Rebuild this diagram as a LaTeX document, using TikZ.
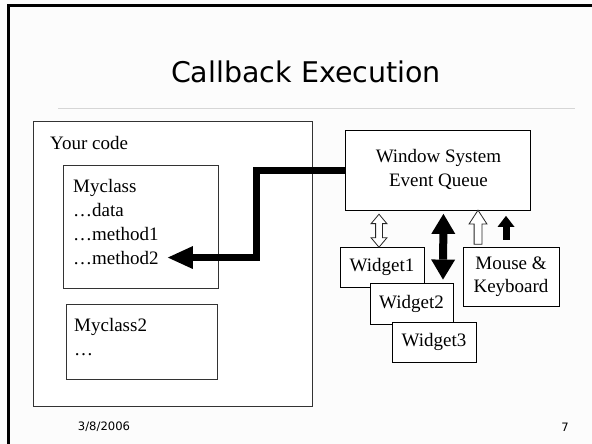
\documentclass[tikz,border=0pt]{standalone}
\usepackage{fontspec}
\setmainfont{Liberation Serif}
\newfontfamily\slidefont{DejaVu Sans}
\usepackage{tikz}
\usetikzlibrary{arrows.meta,positioning,shapes.arrows,calc}
\definecolor{slidebg}{HTML}{FCFCFC}
\definecolor{rulegray}{HTML}{D6D6D6}
\newcommand{\bodyfont}{\fontsize{19pt}{24pt}\selectfont}

\begin{document}
\begin{tikzpicture}[
    x=1pt, y=-1pt,
    box/.style={rectangle, draw=black!80, line width=0.9pt, fill=white, inner sep=0pt},
    wbox/.style={box, draw=black, font=\bodyfont, align=center, minimum width=84pt, minimum height=40pt},
    txt/.style={font=\bodyfont, inner sep=0pt, anchor=base west},
    bigarrow/.style={line width=7pt, -{Triangle[length=25pt, width=23pt, line width=0pt]}},
    blkarrow/.style={line width=8pt, {Triangle[length=20pt, width=24pt, line width=0pt]}-{Triangle[length=20pt, width=24pt, line width=0pt]}},
    blkup/.style={line width=7pt, -{Triangle[length=11pt, width=17pt, line width=0pt]}},
    hollowdbl/.style={double arrow, draw=black!85, line width=0.8pt, fill=white, inner sep=0pt, inner ysep=3pt,
        double arrow head extend=4.5pt, double arrow tip angle=80, minimum height=33pt, minimum width=15pt, rotate=90},
    hollowup/.style={single arrow, draw=black!85, line width=0.8pt, fill=white, inner sep=0pt, inner ysep=3.5pt,
        single arrow head extend=5pt, single arrow tip angle=66, minimum height=34pt, minimum width=17pt, rotate=90}
]
    \useasboundingbox (0,0) rectangle (592,444);
    \fill[slidebg] (0,0) rectangle (592,444);
    \draw[line width=3pt] (8.5,444) -- (8.5,6) -- (592,6);

    % Title
    \node[font=\slidefont\fontsize{28.5pt}{32pt}\selectfont, anchor=base] (title) at (306,83) {Callback Execution};
    \draw[rulegray, line width=1pt] (58,108) -- (575,108);

    % Your code
    \node[box, minimum width=279pt, minimum height=285pt, anchor=north west] (yourcode) at (32.5,121) {};
    \node[txt] (yourlbl) at (50,149) {Your code};
    \node[box, minimum width=155pt, minimum height=123pt, anchor=north west] (myclass) at (63,165) {};
    \node[txt] (mcname) at (73,192) {Myclass};
    \node[txt] (mcdata) at (73,216) {…data};
    \node[txt] (mcm1) at (73,240) {…method1};
    \node[txt] (mcm2) at (73,264) {…method2};
    \node[box, minimum width=151pt, minimum height=75pt, anchor=north west] (myclass2) at (66,304) {};
    \node[txt] (mc2name) at (74,331) {Myclass2};
    \node[txt] (mc2dots) at (74,355) {…};

    % Window system side
    \node[box, draw=black, minimum width=185pt, minimum height=80pt, anchor=north west] (queue) at (345,130) {};
    \node[font=\bodyfont, align=center, inner sep=0pt] (queuelbl) at ($(queue.center)+(0.5,-1.5)$) {Window System\\Event Queue};
    \node[wbox] (widget1) at (382,267) {Widget1};
    \node[wbox, minimum width=83pt, minimum height=41pt] (widget2) at (411.5,303.5) {Widget2};
    \node[wbox] (widget3) at (434,342) {Widget3};
    \node[wbox, minimum width=96pt, minimum height=59pt, font=\fontsize{19pt}{23pt}\selectfont] (mouse) at (511,276.5) {Mouse \&\\Keyboard};

    % Arrows
    \coordinate (elbow) at (256,0);
    \draw[bigarrow] (queue.west) -| (elbow |- mcm2.east) -- ($(mcm2.east)+(9,0)$);
    \draw[blkarrow] ($(queue.south)+(5.5,3)$) -- ($(widget2.north)+(31.5,-3)$);
    \draw[blkup] ($(mouse.north)+(-5,-7)$) -- ($(mouse.north |- queue.south)+(-5,5)$);
    \node[hollowdbl] (w1arrow) at ($(widget1.north |- queue.south)!0.5!(widget1.north)+(-3,2)$) {};
    \node[hollowup] (mousearrow) at ($(mouse.north |- queue.south)!0.5!(mouse.north)+(-33,1.5)$) {};

    % Footer
    \node[font=\slidefont\fontsize{11.6pt}{14pt}\selectfont] (date) at (104,427) {3/8/2006};
    \node[font=\slidefont\fontsize{11.6pt}{14pt}\selectfont] (pagenum) at (565,427) {7};
\end{tikzpicture}
\end{document}
